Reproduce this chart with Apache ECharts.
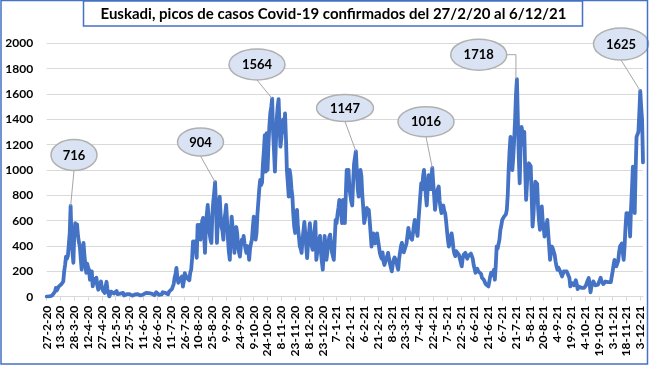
<!DOCTYPE html>
<html>
<head>
<meta charset="utf-8">
<script src="https://cdn.jsdelivr.net/npm/echarts@6/dist/echarts.min.js"></script>
<style>
html,body{margin:0;padding:0;background:#fff;}
#chart{width:650px;height:366px;}
</style>
</head>
<body>
<div id="chart"></div>
<script>
// ---- Data (daily confirmed cases, Euskadi, 27/2/20 .. 6/12/21) ----
const startDate = [2020, 2, 27]; // year, month, day
const titleText = 'Euskadi, picos de casos Covid-19 confirmados del 27/2/20 al 6/12/21';
const cases = [
  0,0,1,2,3,5,10,15,20,40,
  70,50,60,80,90,85,100,95,120,200,
  250,317,300,320,330,500,716,450,350,268,
  500,580,520,570,480,430,396,300,213,350,
  425,330,250,189,260,230,213,134,180,200,
  81,120,140,110,150,90,55,80,100,120,
  70,50,40,30,80,118,60,30,2,20,
  40,30,50,25,15,35,45,20,10,30,
  25,15,20,30,10,12,25,20,15,10,
  20,25,12,8,15,22,18,10,12,20,
  30,15,10,20,25,18,12,25,30,15,
  20,28,35,15,25,30,20,12,25,35,
  30,20,15,30,25,18,35,40,25,30,
  42,35,20,40,50,45,60,80,100,150,
  180,228,150,110,120,140,130,160,80,120,
  186,170,150,140,160,130,190,213,300,436,
  400,436,380,307,567,520,567,450,520,600,
  622,500,346,550,650,724,600,500,450,425,
  650,750,820,904,700,425,600,700,790,650,
  550,520,450,600,650,724,600,450,350,291,
  500,632,550,450,346,480,550,500,400,350,
  317,400,450,420,480,420,380,346,400,380,
  291,380,420,450,550,632,550,450,500,650,
  750,850,921,880,900,1050,1150,1276,987,1290,
  1000,1200,1350,1450,1500,1564,1300,1150,987,1200,
  1400,1500,1560,1350,1184,1250,1350,1400,1300,1446,
  1250,1000,900,790,1000,950,850,790,650,550,
  503,600,685,550,480,400,380,346,450,520,
  590,500,400,304,420,500,580,480,400,370,
  450,520,590,291,350,420,450,480,350,280,
  213,350,480,400,291,350,420,470,490,420,
  350,320,291,450,606,580,650,700,764,738,
  650,580,764,700,580,800,1000,950,1000,850,
  800,750,720,900,1050,1100,1147,1000,850,790,
  900,1000,950,800,700,580,620,680,700,650,
  685,600,500,396,450,500,480,420,460,500,
  450,400,346,320,300,350,280,250,239,300,
  320,346,300,260,230,200,250,290,310,320,
  280,240,213,300,350,400,425,380,350,360,
  346,420,480,543,500,470,480,450,500,560,
  606,580,520,480,600,700,800,897,850,950,
  1000,900,800,720,850,960,900,850,950,1016,
  900,800,685,750,820,850,870,760,700,660,
  700,720,680,660,600,520,450,396,420,470,
  500,450,380,340,320,360,350,370,330,300,
  270,239,300,330,340,346,320,300,320,330,
  320,340,346,300,250,220,189,200,220,200,
  190,213,180,150,140,134,120,100,110,95,
  81,120,160,190,200,170,213,134,250,396,
  380,370,450,528,560,606,600,632,640,650,
  685,800,1000,1150,1262,1100,1000,1100,1236,1400,
  1600,1718,1400,1100,895,1200,1341,1300,1200,1300,
  1000,764,900,1000,1053,1050,1030,800,554,650,
  800,908,900,890,700,600,528,650,713,600,
  550,475,500,550,606,500,400,291,350,396,
  380,370,330,280,240,213,230,240,200,180,
  160,180,200,190,213,200,190,185,150,81,
  110,120,100,90,110,130,100,60,80,90,
  85,70,80,75,70,60,90,110,130,147,
  100,35,80,100,121,110,90,85,80,95,
  110,130,150,120,110,100,110,120,125,120,
  115,130,120,115,110,200,250,291,260,240,
  230,280,350,396,400,420,350,291,400,550,
  659,640,659,600,475,700,850,1026,800,659,
  1000,1262,1250,1300,1450,1625,1500,1400,1060
];
const peakValues = [716, 904, 1564, 1147, 1016, 1718, 1625];
const yTicks = [0, 200, 400, 600, 800, 1000, 1200, 1400, 1600, 1800, 2000];

// ---- Categories (one per day) ----
const categories = cases.map((_, i) => {
  const d = new Date(startDate[0], startDate[1] - 1, startDate[2] + i);
  return d.getDate() + '-' + (d.getMonth() + 1) + '-' + String(d.getFullYear()).slice(2);
});

// ---- Callout layout (bubble centre / radii in px; elbow flag) ----
const callouts = [
  {cx: 74,    cy: 155,   rx: 23,   ry: 15.5},
  {cx: 200.5, cy: 142,   rx: 23,   ry: 14},
  {cx: 257,   cy: 64.5,  rx: 28,   ry: 15.5},
  {cx: 345,   cy: 108,   rx: 28.5, ry: 13.5},
  {cx: 426,   cy: 121.7, rx: 28,   ry: 15},
  {cx: 478.7, cy: 54.7,  rx: 28,   ry: 15.5, elbow: true},
  {cx: 621,   cy: 44,    rx: 27.5, ry: 16}
];

const FONT = 'Lato';
const chart = echarts.init(document.getElementById('chart'), null, {renderer: 'canvas'});
chart.setOption({
  animation: false,
  backgroundColor: '#fff',
  grid: {left: 46.7, right: 7, top: 43.3, bottom: 69.3, containLabel: false},
  xAxis: {
    type: 'category',
    data: categories,
    boundaryGap: false,
    axisLine: {show: true, lineStyle: {color: '#d9d9d9', width: 1}},
    axisTick: {show: true, interval: 14, length: 4, lineStyle: {color: '#d9d9d9'}},
    axisLabel: {
      interval: 14, rotate: 90, margin: 9,
      fontFamily: FONT, fontWeight: 'bold', fontSize: 12, color: '#000'
    },
    splitLine: {show: false}
  },
  yAxis: {
    type: 'value',
    min: yTicks[0], max: yTicks[yTicks.length - 1], interval: yTicks[1] - yTicks[0],
    axisLine: {show: false},
    axisTick: {show: false},
    axisLabel: {margin: 13.5, fontFamily: FONT, fontWeight: 'bold', fontSize: 12, color: '#000',
      formatter: v => String(v)},
    splitLine: {lineStyle: {color: '#d9d9d9', width: 1}}
  },
  series: [{
    type: 'line',
    data: cases,
    showSymbol: false,
    lineStyle: {color: '#4472C4', width: 3.8, join: 'round', cap: 'round'},
    z: 3
  }]
});

// ---- Frame, title and callouts ----
const graphics = [
  {type: 'rect', shape: {x: 1, y: 0.5, width: 646.5, height: 363.5},
   style: {fill: null, stroke: '#4472C4', lineWidth: 1.5}, silent: true, z: 100},
  {type: 'rect', shape: {x: 83.5, y: 1, width: 499, height: 25},
   style: {fill: '#fff', stroke: '#4472C4', lineWidth: 1.5}, z: 100},
  {type: 'text', x: 333.5, y: 14,
   style: {text: titleText, fill: '#000', font: 'bold 15px ' + FONT, textAlign: 'center', textVerticalAlign: 'middle'}, z: 101}
];
peakValues.forEach((v, k) => {
  const idx = cases.indexOf(v);
  const p = chart.convertToPixel({seriesIndex: 0}, [idx, v]);
  const c = callouts[k];
  if (c.elbow) {
    const sx = c.cx + c.rx;
    graphics.push({type: 'polyline', shape: {points: [[sx, c.cy], [p[0] - 1, c.cy], [p[0] - 1, p[1]]]},
      style: {stroke: '#a6a6a6', lineWidth: 1, fill: null}, z: 50});
  } else {
    graphics.push({type: 'line', shape: {x1: c.cx, y1: c.cy + c.ry, x2: p[0], y2: p[1]},
      style: {stroke: '#a6a6a6', lineWidth: 1}, z: 50});
  }
  graphics.push({type: 'ellipse', shape: {cx: c.cx, cy: c.cy, rx: c.rx, ry: c.ry},
    style: {fill: '#dae3f3', stroke: '#b0b0b0', lineWidth: 1.5}, z: 60});
  graphics.push({type: 'text', x: c.cx, y: c.cy + 0.5,
    style: {text: String(v), fill: '#000', font: 'bold 13px ' + FONT, textAlign: 'center', textVerticalAlign: 'middle'}, z: 61});
});
chart.setOption({graphic: graphics});
</script>
</body>
</html>
